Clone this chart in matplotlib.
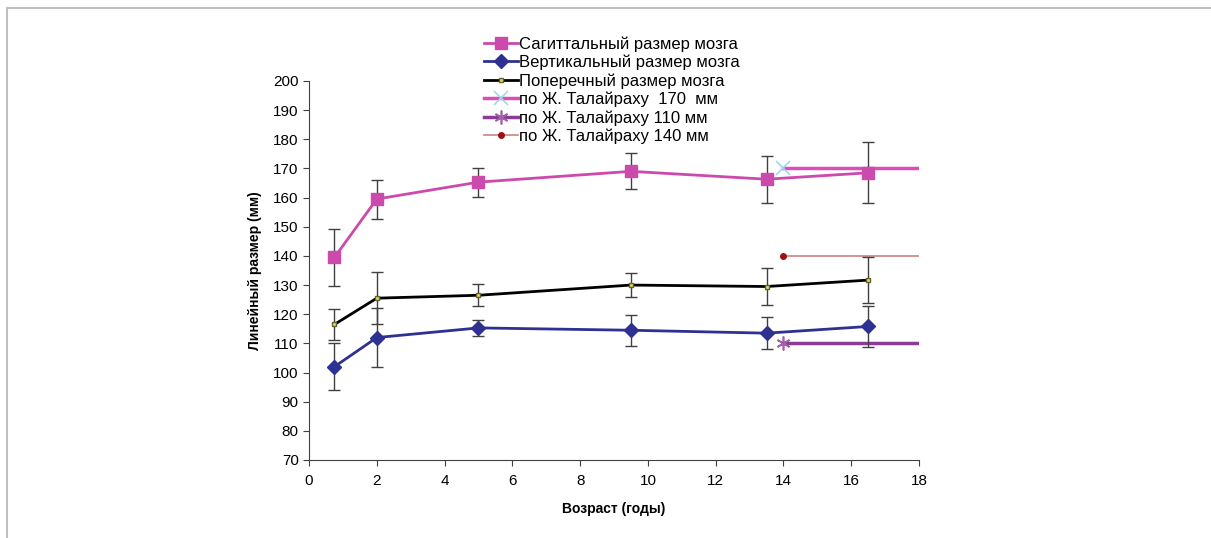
import numpy as np
import matplotlib
matplotlib.use("Agg")
import matplotlib.pyplot as plt
from matplotlib.patches import Rectangle
from matplotlib.lines import Line2D

plt.rcParams['font.family'] = ['Liberation Sans', 'DejaVu Sans']

# age points (years)
age = [0.75, 2, 5, 9.5, 13.5, 16.5]

# sagittal brain size
sag = [139.5, 159.5, 165.3, 169.0, 166.3, 168.5]
sag_err = [9.7, 6.7, 5.0, 6.2, 8.0, 10.5]

# vertical brain size
vert = [102.0, 112.0, 115.3, 114.5, 113.5, 115.8]
vert_err = [8.0, 10.0, 2.8, 5.3, 5.5, 7.0]

# transverse brain size
trans = [116.5, 125.5, 126.5, 130.0, 129.5, 131.7]
trans_err = [5.4, 9.0, 3.8, 4.2, 6.3, 7.8]

# Talairach reference levels
ref_x = [14, 18]
ref_170 = [170, 170]
ref_110 = [110, 110]
ref_140 = [140, 140]

fig = plt.figure(figsize=(12.11, 5.38), dpi=100)
ax = fig.add_axes([0.2552, 0.145, 0.5037, 0.7045])

# light frame round the figure (top and left visible)
fig.patches.append(Rectangle((0.006, -0.05), 1.1, 1.035, transform=fig.transFigure,
                             fill=False, edgecolor='#bfbfbf', linewidth=1.5))

err_kw = dict(ecolor='#404040', elinewidth=1, capsize=4, capthick=1)

ax.errorbar(age, sag, yerr=sag_err, color='#cc4aac', lw=2, marker='s', ms=8,
            mfc='#cc4aac', mec='#cc4aac', **err_kw, zorder=3)
ax.errorbar(age, vert, yerr=vert_err, color='#2e3192', lw=2, marker='D', ms=7,
            mfc='#2e3192', mec='#2e3192', **err_kw, zorder=3)
ax.errorbar(age, trans, yerr=trans_err, color='black', lw=2, marker='s', ms=3,
            mfc='#e8e060', mec='#606030', **err_kw, zorder=3)

l170, = ax.plot(ref_x, ref_170, color='#d94fb5', lw=2.5, marker='x', ms=10, mew=1.2,
                mec='#9fd8ea', markevery=[0], zorder=2)
l110, = ax.plot(ref_x, ref_110, color='#8b3a96', lw=2.5, marker=(6, 2, 0), ms=10, mew=1.2,
                mec='#a060a8', markevery=[0], zorder=2)
l140, = ax.plot(ref_x, ref_140, color='#c88484', lw=1.2, marker='o', ms=4,
                mfc='#a01010', mec='#a01010', markevery=[0], zorder=2)

ax.set_xlim(0, 18)
ax.set_ylim(70, 200)
ax.set_xticks(np.arange(0, 19, 2))
ax.set_yticks(np.arange(70, 201, 10))
ax.spines['top'].set_visible(False)
ax.spines['right'].set_visible(False)
ax.spines['left'].set_color('#404040')
ax.spines['bottom'].set_color('#404040')
ax.tick_params(axis='both', labelsize=11, color='#404040', length=4)
ax.tick_params(axis='x', pad=6)

ax.set_xlabel('Возраст (годы)', fontsize=10, fontweight='bold', labelpad=10)
ax.set_ylabel('Линейный размер (мм)', fontsize=10, fontweight='bold', labelpad=8)

handles = [
    Line2D([], [], color='#cc4aac', lw=2, marker='s', ms=8, mfc='#cc4aac', mec='#cc4aac'),
    Line2D([], [], color='#2e3192', lw=2, marker='D', ms=7, mfc='#2e3192', mec='#2e3192'),
    Line2D([], [], color='black', lw=2, marker='s', ms=3, mfc='#e8e060', mec='#606030'),
    l170, l110, l140,
]
labels = ['Сагиттальный размер мозга', 'Вертикальный размер мозга',
          'Поперечный размер мозга', 'по Ж. Талайраху  170  мм',
          'по Ж. Талайраху 110 мм', 'по Ж. Талайраху 140 мм']
leg = fig.legend(handles, labels, loc='upper left', bbox_to_anchor=(0.393, 0.948),
                 frameon=False, fontsize=12, handlelength=2.0, handletextpad=0.1,
                 labelspacing=0.18, borderpad=0, markerscale=1.0)

fig.savefig('out.png', dpi=100)
